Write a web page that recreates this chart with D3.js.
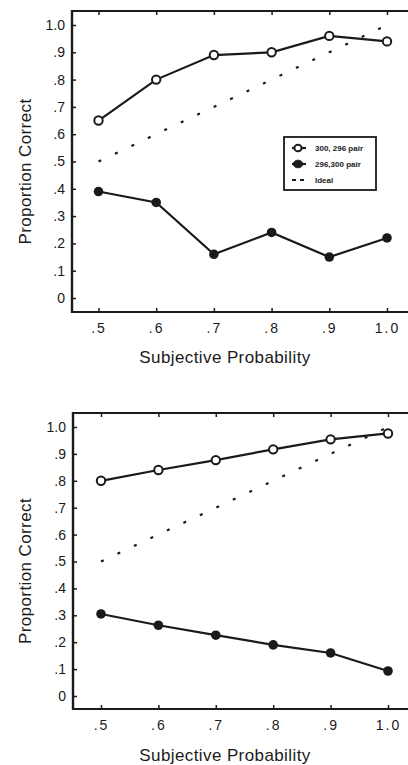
<!DOCTYPE html>
<html>
<head>
<meta charset="utf-8">
<script src="https://cdn.jsdelivr.net/npm/d3@7"></script>
<style>
  body { margin: 0; background: #fff; }
  svg { display: block; }
  text { font-family: "Liberation Sans", Arial, Helvetica, sans-serif; fill: #1a1a1a; }
</style>
</head>
<body>
<div id="chart"></div>
<script>
// data
const subjProb = [0.5, 0.6, 0.7, 0.8, 0.9, 1.0];
const xTickLabels = [".5", ".6", ".7", ".8", ".9", "1.0"];
const yTicks = [0, 0.1, 0.2, 0.3, 0.4, 0.5, 0.6, 0.7, 0.8, 0.9, 1.0];
const yTickLabels = ["0", ".1", ".2", ".3", ".4", ".5", ".6", ".7", ".8", ".9", "1.0"];

const topOpen = [0.65, 0.80, 0.89, 0.90, 0.96, 0.94];     // 300, 296 pair
const topFilled = [0.39, 0.35, 0.16, 0.24, 0.15, 0.22];   // 296,300 pair
const bottomOpen = [0.80, 0.84, 0.877, 0.917, 0.954, 0.976];
const bottomFilled = [0.305, 0.263, 0.226, 0.19, 0.16, 0.093];
const idealX = [0.5, 1.0];
const idealY = [0.5, 1.0];
const legendLabels = ["300, 296 pair", "296,300 pair", "Ideal"];

const W = 408, H = 765;
const ink = "#1a1a1a";

const svg = d3.select("#chart")
    .append("svg")
    .attr("width", W)
    .attr("height", H);

// panel layout (pixel boxes)
const panels = [
  { top: 11, bottom: 312, left: 72, y0: 298, y1: 25, x0: 98.5, x1: 387,
    open: topOpen, filled: topFilled, legend: true, xTitleY: 357 },
  { top: 413, bottom: 709, left: 73, y0: 696, y1: 427, x0: 101, x1: 388,
    open: bottomOpen, filled: bottomFilled, legend: false, xTitleY: 755 }
];

panels.forEach(p => drawPanel(p));

function drawPanel(p) {
  const g = svg.append("g");

  const x = d3.scaleLinear().domain([0.5, 1.0]).range([p.x0, p.x1]);
  const y = d3.scaleLinear().domain([0, 1.0]).range([p.y0, p.y1]);

  // frame: left, top and bottom lines (no right edge)
  g.append("line")
      .attr("x1", p.left).attr("x2", W)
      .attr("y1", p.top).attr("y2", p.top)
      .attr("stroke", ink).attr("stroke-width", 2.2);
  g.append("line")
      .attr("x1", p.left).attr("x2", W)
      .attr("y1", p.bottom).attr("y2", p.bottom)
      .attr("stroke", ink).attr("stroke-width", 2.2);
  g.append("line")
      .attr("x1", p.left).attr("x2", p.left)
      .attr("y1", p.top - 1).attr("y2", p.bottom + 1)
      .attr("stroke", ink).attr("stroke-width", 2.4);

  // y axis, ticks pointing inward
  const yAxis = g.append("g")
      .attr("transform", `translate(${p.left},0)`)
      .call(d3.axisLeft(y)
          .tickValues(yTicks)
          .tickFormat((d, i) => yTickLabels[i])
          .tickSizeInner(-4)
          .tickSizeOuter(0)
          .tickPadding(7));
  yAxis.select(".domain").remove();
  yAxis.selectAll(".tick line").attr("stroke", ink).attr("stroke-width", 1.5);
  yAxis.selectAll(".tick text")
      .attr("font-size", 14)
      .attr("fill", ink)
      .style("font-family", "'Liberation Sans', Arial, sans-serif");

  // bottom x axis
  const xAxis = g.append("g")
      .attr("transform", `translate(0,${p.bottom})`)
      .call(d3.axisBottom(x)
          .tickValues(subjProb)
          .tickFormat((d, i) => xTickLabels[i])
          .tickSizeInner(-4)
          .tickSizeOuter(0)
          .tickPadding(11));
  xAxis.select(".domain").remove();
  xAxis.selectAll(".tick line").attr("stroke", ink).attr("stroke-width", 1.5);
  xAxis.selectAll(".tick text")
      .attr("font-size", 14)
      .attr("fill", ink)
      .style("letter-spacing", "2px")
      .style("font-family", "'Liberation Sans', Arial, sans-serif");

  // top ticks, no labels
  const topAxis = g.append("g")
      .attr("transform", `translate(0,${p.top})`)
      .call(d3.axisTop(x)
          .tickValues(subjProb)
          .tickFormat("")
          .tickSizeInner(-4)
          .tickSizeOuter(0));
  topAxis.select(".domain").remove();
  topAxis.selectAll(".tick line").attr("stroke", ink).attr("stroke-width", 1.5);

  // axis titles
  g.append("text")
      .attr("x", 225)
      .attr("y", p.xTitleY)
      .attr("text-anchor", "middle")
      .attr("dominant-baseline", "central")
      .attr("font-size", 17)
      .style("letter-spacing", "0.4px")
      .text("Subjective Probability");

  const midY = (p.top + p.bottom) / 2 + 10;
  g.append("text")
      .attr("transform", `translate(25,${midY}) rotate(-90)`)
      .attr("text-anchor", "middle")
      .attr("dominant-baseline", "central")
      .attr("font-size", 17)
      .style("letter-spacing", "0.4px")
      .text("Proportion Correct");

  // ideal line
  const idealData = idealX.map((d, i) => ({ x: d, y: idealY[i] }));
  g.append("path")
      .datum(idealData)
      .attr("fill", "none")
      .attr("stroke", ink)
      .attr("stroke-width", 2.2)
      .attr("stroke-dasharray", "3,15.2")
      .attr("d", d3.line().x(d => x(d.x)).y(d => y(d.y)));

  const line = d3.line()
      .x((d, i) => x(subjProb[i]))
      .y(d => y(d));

  // 296,300 pair (filled)
  g.append("path")
      .datum(p.filled)
      .attr("fill", "none")
      .attr("stroke", ink)
      .attr("stroke-width", 2.2)
      .attr("d", line);
  g.selectAll(".filled")
      .data(p.filled)
      .enter()
      .append("circle")
      .attr("class", "filled")
      .attr("cx", (d, i) => x(subjProb[i]))
      .attr("cy", d => y(d))
      .attr("r", 4.8)
      .attr("fill", ink);

  // 300, 296 pair (open)
  g.append("path")
      .datum(p.open)
      .attr("fill", "none")
      .attr("stroke", ink)
      .attr("stroke-width", 2.2)
      .attr("d", line);
  g.selectAll(".open")
      .data(p.open)
      .enter()
      .append("circle")
      .attr("class", "open")
      .attr("cx", (d, i) => x(subjProb[i]))
      .attr("cy", d => y(d))
      .attr("r", 4.2)
      .attr("fill", "#fff")
      .attr("stroke", ink)
      .attr("stroke-width", 2);

  if (p.legend) drawLegend(g);
}

function drawLegend(g) {
  const lg = g.append("g").attr("transform", "translate(284,137)");
  lg.append("rect")
      .attr("width", 92)
      .attr("height", 53)
      .attr("fill", "#fff")
      .attr("stroke", ink)
      .attr("stroke-width", 1.8);

  const rows = [11, 27, 43];
  legendLabels.forEach((label, i) => {
    const row = lg.append("g").attr("transform", `translate(0,${rows[i]})`);
    if (i < 2) {
      row.append("line")
          .attr("x1", 8).attr("x2", 22)
          .attr("stroke", ink).attr("stroke-width", 2.2);
      row.append("ellipse")
          .attr("cx", 14)
          .attr("rx", i === 0 ? 3.6 : 4.6)
          .attr("ry", i === 0 ? 3.3 : 3.8)
          .attr("fill", i === 0 ? "#fff" : ink)
          .attr("stroke", ink)
          .attr("stroke-width", i === 0 ? 2 : 1);
    } else {
      row.append("line")
          .attr("x1", 8).attr("x2", 23)
          .attr("stroke", ink).attr("stroke-width", 2)
          .attr("stroke-dasharray", "4,4");
    }
    row.append("text")
        .attr("x", 31)
        .attr("dominant-baseline", "central")
        .attr("font-size", 8)
        .attr("font-weight", "bold")
        .text(label);
  });
}
</script>
</body>
</html>
